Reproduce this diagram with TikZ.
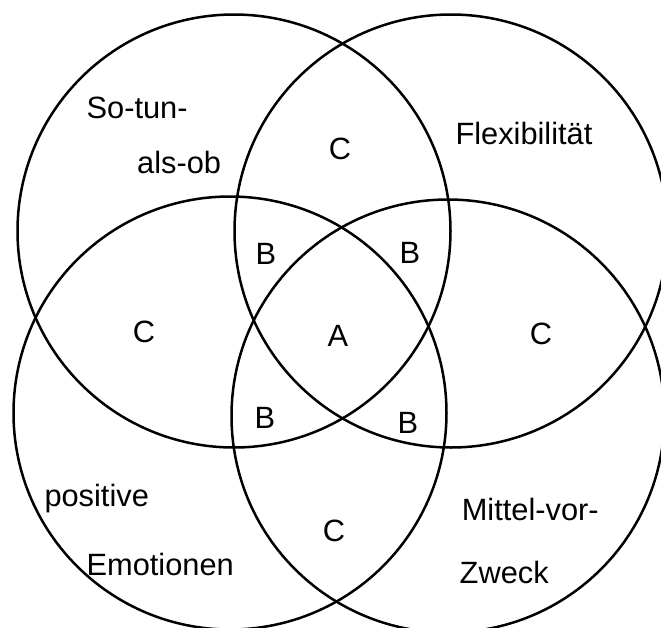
\documentclass[tikz,border=0pt]{standalone}
\usepackage{fontspec}
\setmainfont{Liberation Sans}
\begin{document}
\begin{tikzpicture}[x=1pt,y=-1pt,
  ring/.style={circle,draw=black,line width=2.5pt,minimum size=433pt,inner sep=0pt},
  lbl/.style={inner sep=0pt,anchor=base west,font=\fontsize{30.8}{36}\selectfont},
  zone/.style={inner sep=0pt,anchor=center,font=\fontsize{30.8}{36}\selectfont}]
  \useasboundingbox (0,0) rectangle (661,627);
  % four overlapping circles
  \node[ring] (tl) at (234,231) {};
  \node[ring] (tr) at (451,231) {};
  \node[ring] (bl) at (230,413) {};
  \node[ring] (br) at (448,416) {};
  % circle names
  \node[lbl] (sotun) at (86.4,118.9) {So-tun-};
  \node[lbl] (alsob) at (137,173.7) {als-ob};
  \node[lbl] (flex) at (455.3,144.2) {Flexibilität};
  \node[lbl] (posi) at (44.3,506) {positive};
  \node[lbl] (emo) at (86.4,575.5) {Emotionen};
  \node[lbl] (mittel) at (461.6,520.6) {Mittel-vor-};
  \node[lbl] (zweck) at (459.5,583) {Zweck};
  % region letters
  \node[zone] (ctop) at (340,149) {C};
  \node[zone] (cleft) at (144,332) {C};
  \node[zone] (cright) at (541,334) {C};
  \node[zone] (cbot) at (334,531) {C};
  \node[zone] (btl) at (266,254) {B};
  \node[zone] (btr) at (410,253) {B};
  \node[zone] (bbl) at (265,418) {B};
  \node[zone] (bbr) at (408,423) {B};
  \node[zone] (acen) at (338,336) {A};
\end{tikzpicture}
\end{document}
